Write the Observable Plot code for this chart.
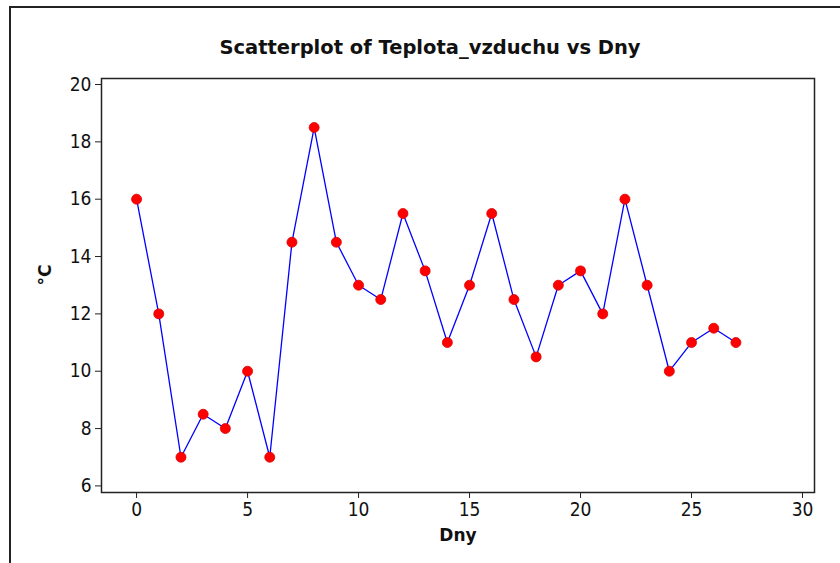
<!DOCTYPE html>
<html>
<head>
<meta charset="utf-8">
<script src="https://cdn.jsdelivr.net/npm/d3@7"></script>
<script src="https://cdn.jsdelivr.net/npm/@observablehq/plot@0.6"></script>
<style>
  html, body { margin: 0; padding: 0; background: #fff; }
  #wrap { position: relative; width: 840px; height: 563px; overflow: hidden; }
  #outer { position: absolute; left: 9px; top: 6px; width: 840px; height: 570px;
           border-left: 2px solid #222; border-top: 2px solid #222; }
  #chart { position: absolute; left: 0; top: 0; }
  #chart g[aria-label$="tick label"], #chart g[aria-label$="tick label"] text {
    font-size: 19px !important; font-family: "DejaVu Sans Condensed", "Liberation Sans", sans-serif;
  }
</style>
</head>
<body>
<div id="wrap"><div id="outer"></div><div id="chart"></div></div>
<script>
const days = [0,1,2,3,4,5,6,7,8,9,10,11,12,13,14,15,16,17,18,19,20,21,22,23,24,25,26,27];
const temps = [16,12,7,8.5,8,10,7,14.5,18.5,14.5,13,12.5,15.5,13.5,11,13,15.5,12.5,10.5,13,13.5,12,16,13,10,11,11.5,11];
const xTicks = [0,5,10,15,20,25,30];
const yTicks = [6,8,10,12,14,16,18,20];
const title = "Scatterplot of Teplota_vzduchu vs Dny";
const xLabel = "Dny";
const yLabel = "°C";

const data = days.map((d, i) => ({day: d, temp: temps[i]}));
const font = "DejaVu Sans, Verdana, sans-serif";

const chart = Plot.plot({
  width: 840,
  height: 563,
  marginLeft: 101,
  marginRight: 26,
  marginTop: 78,
  marginBottom: 71,
  style: {fontFamily: font, fontSize: "16px", color: "#111", background: "transparent"},
  x: {domain: [-1.58, 30.54]},
  y: {domain: [5.77, 20.21]},
  marks: [
    Plot.axisX(xTicks, {tickSize: 6, tickPadding: 4, fontSize: 19, label: null, stroke: "#222", fill: "#111"}),
    Plot.axisY(yTicks, {tickSize: 6, tickPadding: 4, fontSize: 19, label: null, stroke: "#222", fill: "#111"}),
    Plot.frame({stroke: "#222", strokeWidth: 1.5}),
    Plot.line(data, {x: "day", y: "temp", stroke: "#0000ff", strokeWidth: 1.3}),
    Plot.dot(data, {x: "day", y: "temp", r: 5, fill: "#ff0000", stroke: "#dd0000", strokeWidth: 0.8}),
    Plot.text([title], {frameAnchor: "top", dx: -28, dy: -31, text: d => d, fontSize: 19.5, fontWeight: "bold", fill: "#111", lineAnchor: "middle"}),
    Plot.text([xLabel], {frameAnchor: "bottom", dy: 43, text: d => d, fontSize: 17, fontWeight: "bold", fill: "#111", lineAnchor: "middle"}),
    Plot.text([yLabel], {frameAnchor: "left", dx: -56, text: d => d, rotate: -90, fontSize: 17, fontWeight: "bold", fill: "#111", lineAnchor: "middle"})
  ]
});
document.getElementById("chart").appendChild(chart);
</script>
</body>
</html>
